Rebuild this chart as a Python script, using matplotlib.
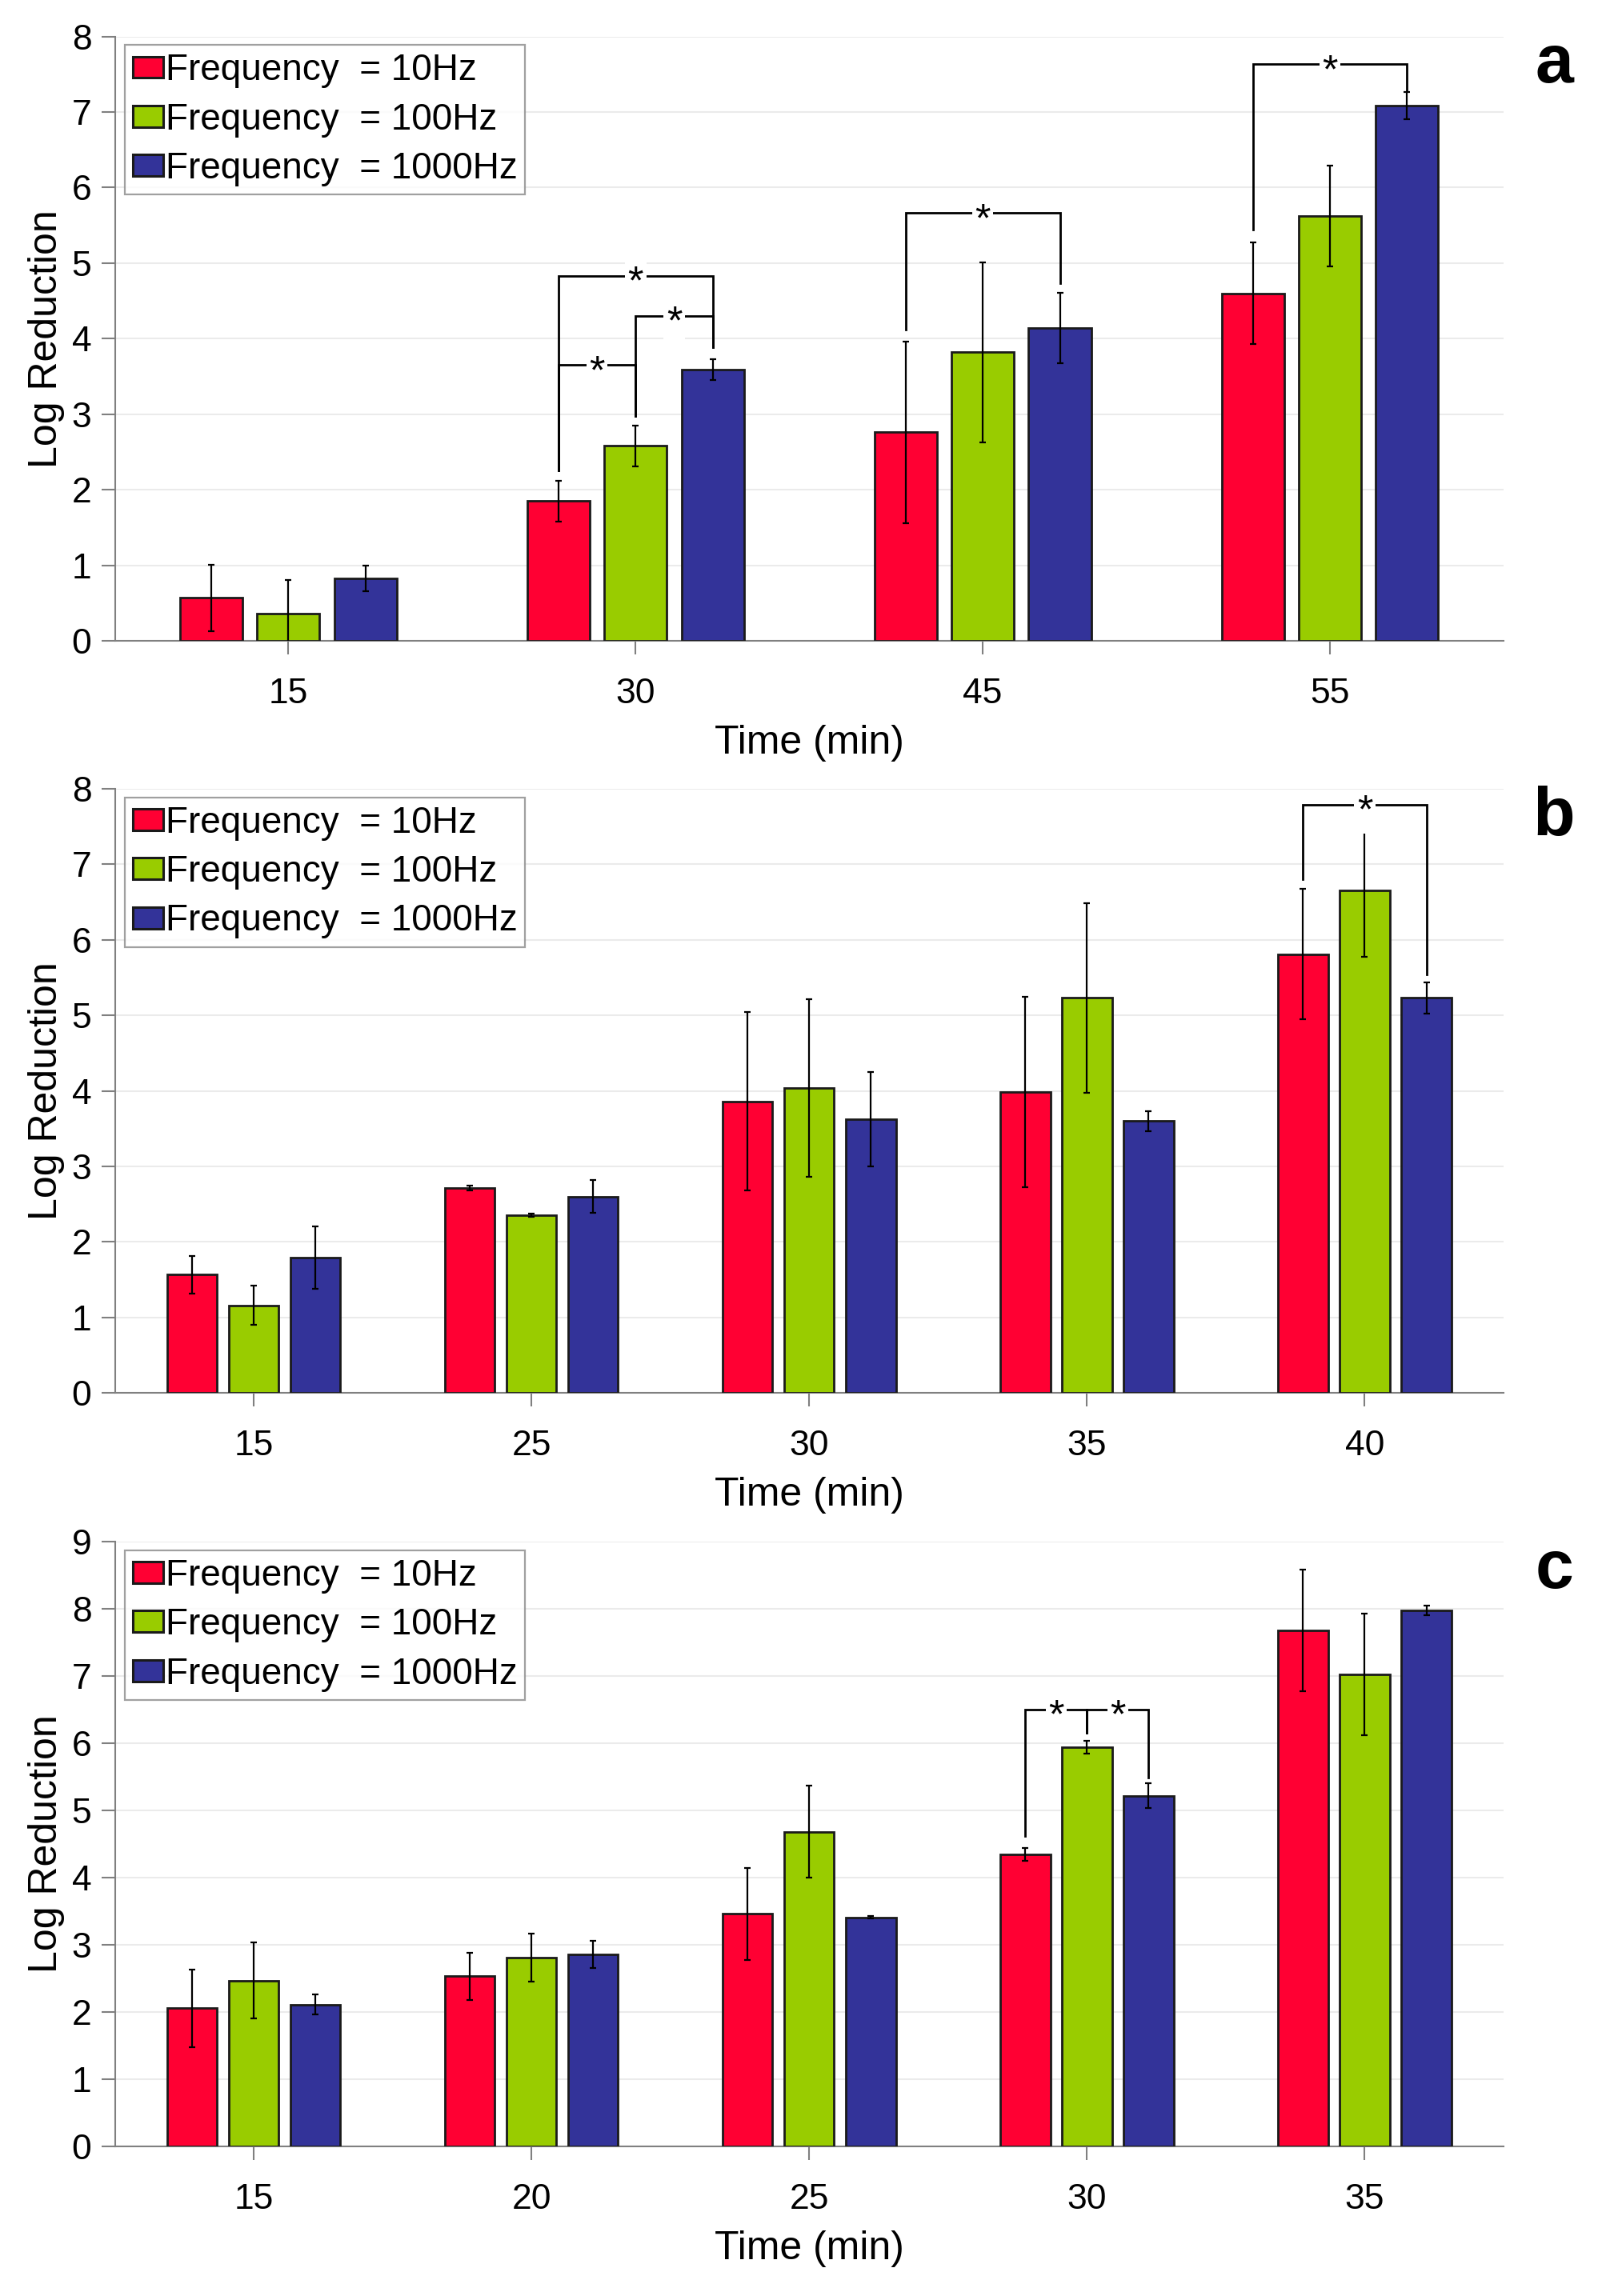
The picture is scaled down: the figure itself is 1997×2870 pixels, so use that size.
import matplotlib
matplotlib.use("Agg")
import matplotlib.pyplot as plt
import matplotlib.transforms as mtransforms
import numpy as np

plt.rcParams['font.family'] = ['Liberation Sans', 'DejaVu Sans']

# ---------------- data ----------------
series_labels = ["Frequency  = 10Hz", "Frequency  = 100Hz", "Frequency  = 1000Hz"]
colors = ["#FF0033", "#99CC00", "#333399"]

a_times = ["15", "30", "45", "55"]
a_10 = [0.57, 1.85, 2.76, 4.60]
a_100 = [0.36, 2.58, 3.82, 5.62]
a_1000 = [0.83, 3.59, 4.14, 7.08]
a_err10 = [0.44, 0.27, 1.20, 0.67]
a_err100 = [0.44, 0.27, 1.19, 0.665]
a_err1000 = [0.17, 0.135, 0.47, 0.18]

b_times = ["15", "25", "30", "35", "40"]
b_10 = [1.565, 2.715, 3.86, 3.98, 5.81]
b_100 = [1.16, 2.35, 4.04, 5.23, 6.65]
b_1000 = [1.79, 2.60, 3.62, 3.60, 5.23]
b_err10 = [0.25, 0.03, 1.18, 1.26, 0.865]
b_err100 = [0.255, 0.02, 1.175, 1.26, 0.87]
b_err1000 = [0.41, 0.215, 0.625, 0.135, 0.205]

c_times = ["15", "20", "25", "30", "35"]
c_10 = [2.055, 2.53, 3.46, 4.345, 7.68]
c_100 = [2.47, 2.81, 4.68, 5.935, 7.025]
c_1000 = [2.11, 2.86, 3.41, 5.22, 7.98]
c_err10 = [0.575, 0.35, 0.685, 0.09, 0.905]
c_err100 = [0.57, 0.355, 0.685, 0.095, 0.90]
c_err1000 = [0.15, 0.20, 0.02, 0.19, 0.07]

# significance brackets: (group index, series i, series j, top y, leg bottom i, leg bottom j)
a_sig = [(1, 0, 2, 4.83, 2.26, 3.89), (1, 0, 1, 3.65, 2.26, 2.98), (1, 1, 2, 4.30, 2.98, 3.89),
         (2, 0, 2, 5.66, 4.12, 4.73), (3, 0, 2, 7.63, 5.44, 7.29)]
b_sig = [(4, 0, 2, 7.79, 6.80, 5.54)]
c_sig = [(3, 0, 1, 6.50, 4.62, 6.15), (3, 1, 2, 6.50, 6.15, 5.49)]
# ---------------------------------------

W, H = 1997, 2870
fig = plt.figure(figsize=(W / 100, H / 100), dpi=100)

bar_w = 0.18
offset = 0.222
spine_col = "#808080"


def panel(rect, times, vals, errs, ymax, sig, letter):
    ax = fig.add_axes(rect)
    x = np.arange(1, len(times) + 1)
    for k in range(3):
        xs = x + (k - 1) * offset
        ax.bar(xs, vals[k], width=bar_w, color=colors[k], edgecolor="#1a1a1a",
               linewidth=2.0, label=series_labels[k], zorder=3)
        ax.errorbar(xs, vals[k], yerr=errs[k], fmt="none", ecolor="black",
                    elinewidth=1.6, capsize=3, capthick=1.6, zorder=4)
    ax.set_xlim(0.5, len(times) + 0.5)
    ax.set_ylim(0, ymax)
    ax.set_yticks(range(0, ymax + 1))
    ax.set_xticks(x)
    ax.set_xticklabels(times)
    ax.yaxis.grid(True, color="#ebebeb", linewidth=1.5, zorder=0)
    ax.set_axisbelow(True)
    for s in ["top", "right"]:
        ax.spines[s].set_visible(False)
    for s in ["left", "bottom"]:
        ax.spines[s].set_color(spine_col)
        ax.spines[s].set_linewidth(1.5)
    ax.tick_params(axis="both", direction="out", length=12, width=1.5, color=spine_col,
                   labelsize=32)
    ax.tick_params(axis="x", pad=21)
    ax.tick_params(axis="y", pad=9)
    ax.set_xlabel("Time (min)", fontsize=36, labelpad=13)
    ax.set_ylabel("Log Reduction", fontsize=36)
    ax.yaxis.set_label_coords(-0.036, 0.5)

    leg = ax.legend(loc="upper left", bbox_to_anchor=(0.007, 0.986), borderaxespad=0,
                    fontsize=33, frameon=True, fancybox=False, handlelength=0.83,
                    handleheight=0.52, handletextpad=0.06, labelspacing=0.38,
                    borderpad=0.22)
    leg.get_frame().set_edgecolor("#888888")
    leg.get_frame().set_linewidth(1.6)
    for p in leg.get_patches():
        p.set_linewidth(2.2)
        p.set_edgecolor("#1a1a1a")

    star_tr = mtransforms.offset_copy(ax.transData, fig=fig, x=0, y=-7, units="points")
    for (g, i, j, top, bi, bj) in sig:
        xi = g + 1 + (i - 1) * offset
        xj = g + 1 + (j - 1) * offset
        ax.plot([xi, xi, xj, xj], [bi, top, top, bj], color="black", lw=2.0,
                solid_joinstyle="miter", zorder=5)
        ax.text((xi + xj) / 2, top, "*", fontsize=36, ha="center", va="center",
                transform=star_tr, zorder=6,
                bbox=dict(facecolor="white", edgecolor="none", pad=2.5))

    fig.text(0.9725, rect[1] + rect[3] + 0.0015, letter, fontsize=62, fontweight="bold",
             ha="center", va="top")
    return ax


left = 143.5 / W
width = (1879 - 143.5) / W
panel([left, 1 - 801 / H, width, (801 - 45.5) / H], a_times,
      [a_10, a_100, a_1000], [a_err10, a_err100, a_err1000], 8, a_sig, "a")
panel([left, 1 - 1741 / H, width, (1741 - 986) / H], b_times,
      [b_10, b_100, b_1000], [b_err10, b_err100, b_err1000], 8, b_sig, "b")
panel([left, 1 - 2683 / H, width, (2683 - 1927) / H], c_times,
      [c_10, c_100, c_1000], [c_err10, c_err100, c_err1000], 9, c_sig, "c")

fig.savefig("out.png", dpi=100, facecolor="white")
